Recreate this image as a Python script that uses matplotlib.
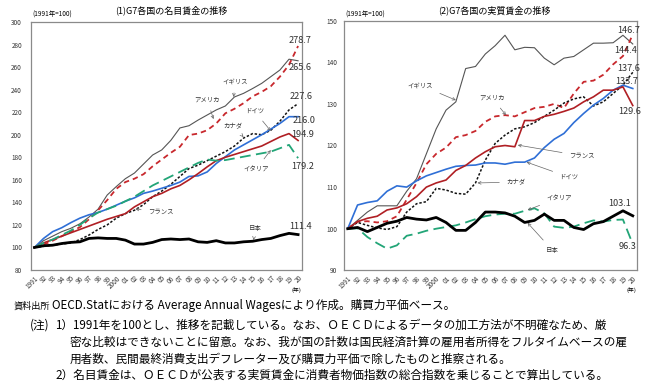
import matplotlib.pyplot as plt

plt.rcParams['font.family'] = ['Noto Sans CJK JP', 'DejaVu Sans']

years = list(range(1991, 2021))
year_labels = ['1991', '92', '93', '94', '95', '96', '97', '98', '99', '2000',
               '01', '02', '03', '04', '05', '06', '07', '08', '09', '10',
               '11', '12', '13', '14', '15', '16', '17', '18', '19', '20']

# (1) 名目賃金 (1991年=100)
nom_uk = [100, 106, 110, 114, 117, 121, 127, 134, 146.5, 154, 161, 166, 174, 182, 186.5,
          195, 206, 208, 213, 217.5, 222, 225.5, 233.5, 236.7, 241, 245.6, 251.5, 257.4, 267, 265.6]
nom_us = [100, 102.5, 106, 110, 114, 118, 125, 133, 142, 152, 158, 161, 165, 172, 178,
          184, 189.3, 199.7, 201, 204, 210, 219, 223, 228, 234, 238, 243, 251.5, 262, 278.7]
nom_ca = [100, 101, 102, 103, 104, 107, 111, 116, 120, 126, 130, 133, 138, 145, 150,
          156, 163, 170, 173, 177, 181, 185, 190, 197, 201, 200, 204, 212, 222, 227.6]
nom_de = [100, 108, 114, 117.5, 122, 126, 129, 131, 134, 137.5, 141, 144, 148, 150, 152.5,
          155, 158, 163, 163.5, 167, 174.5, 180.5, 186.5, 191, 195.5, 200, 205, 210, 216, 216.0]
nom_fr = [100, 104, 107, 110, 113, 116, 119, 122, 125, 127.5, 130, 136, 140.5, 145, 148,
          152, 155, 160, 165.5, 171.5, 177, 180, 182.5, 185, 187.5, 190, 194, 198, 201, 194.9]
nom_it = [100, 104, 107, 111, 115, 120, 126, 131, 134, 137, 141, 145, 150, 155, 159,
          163, 167, 171, 175, 178, 177, 177.5, 179, 180.5, 182, 183.5, 185, 188, 191, 179.2]
nom_jp = [100, 101.5, 102, 103.5, 104.5, 105, 108, 108.5, 108, 108, 106.5, 103, 103, 104.5, 107,
          107.5, 107, 107.5, 105, 104.5, 106, 104, 104, 105, 105.5, 107, 108, 110.5, 112.5, 111.4]

# (2) 実質賃金 (1991年=100)
real_uk = [100, 102, 104, 105.5, 105.5, 105.5, 109, 112, 118, 124, 128.5, 130.5, 138.5, 139, 142,
           144, 146.5, 143, 143.6, 143.5, 141, 139.4, 141, 141.4, 143, 144.6, 144.6, 144.7, 146.5, 144.4]
real_us = [100, 101.7, 101.8, 101.5, 101.8, 103, 107, 111, 115.5, 118, 119.5, 122, 122.5, 123.5, 125.7,
           127, 127.3, 127, 128, 129, 129.3, 130, 129, 132.5, 135.3, 135.6, 137, 139.5, 141.5, 146.7]
real_ca = [100, 101.5, 100.8, 100.2, 99.8, 100.5, 104, 106, 106.5, 109.7, 109.3, 108.5, 108.3, 111, 116.5,
           120.5, 122.5, 124, 124.5, 125.5, 127, 128.5, 130.2, 131.2, 131.7, 129.5, 130.5, 132.5, 134.5, 137.6]
real_de = [100, 105.7, 106.3, 106.7, 109, 110.3, 110, 111.5, 112.7, 113.5, 114.3, 115, 115.2, 115.3, 115.8,
           115.8, 115.5, 116, 116, 117, 119.5, 121.5, 122.9, 125.5, 127.7, 129.7, 131.3, 133.3, 134.5, 133.7]
real_fr = [100, 101.7, 102.5, 103, 104.5, 105, 106, 107.7, 110, 111, 111.7, 114, 115.2, 117, 118.5,
           119.7, 120, 119.7, 126, 126, 127, 127.5, 128.2, 129, 130.5, 131.7, 133.3, 133.3, 134.1, 129.6]
real_it = [100, 100.1, 98, 96.5, 95.2, 96, 98.3, 98.8, 99.5, 100, 100.4, 100.8, 101.5, 102.3, 103,
           103.4, 103.6, 103.6, 104.3, 104.9, 103.7, 100.5, 100.2, 100.5, 101.3, 102, 101.7, 102.1, 102.2, 96.3]
real_jp = [100, 100.3, 99.3, 100.3, 101.3, 101.8, 102.7, 102.3, 102.1, 102.7, 101.5, 99.6, 99.6, 101.5, 104,
           104, 103.8, 103, 101.5, 102, 103.5, 102, 102, 100.3, 99.8, 101.2, 101.7, 103, 104.3, 103.1]

# 線のスタイル
styles = {
    'uk': dict(color='#555555', lw=0.8),
    'us': dict(color='#c8282d', lw=1.3, dashes=(3, 2.2)),
    'ca': dict(color='#111111', lw=1.1, dashes=(1.6, 1.2)),
    'de': dict(color='#2f6fd6', lw=1.2),
    'fr': dict(color='#b01f24', lw=1.2),
    'it': dict(color='#22a577', lw=1.3, dashes=(6, 3)),
    'jp': dict(color='#000000', lw=2.0),
}

nominal = {'uk': nom_uk, 'us': nom_us, 'ca': nom_ca, 'de': nom_de,
           'fr': nom_fr, 'it': nom_it, 'jp': nom_jp}
real = {'uk': real_uk, 'us': real_us, 'ca': real_ca, 'de': real_de,
        'fr': real_fr, 'it': real_it, 'jp': real_jp}

# 国名ラベル: (text, 文字位置, 矢印先)
names_nom = [('イギリス', (2013.1, 246.8), (2012.9, 233.5)),
             ('アメリカ', (2010.0, 230.8), (2010.7, 213.9)),
             ('ドイツ', (2015.2, 221.0), (2017.0, 203.3)),
             ('カナダ', (2012.8, 207.7), (2014.0, 198.0)),
             ('フランス', (2004.9, 131.4), (2002.1, 134.1)),
             ('イタリア', (2015.4, 169.6), (2017.0, 186.4)),
             ('日本', (2015.3, 117.2), (2015.1, 106.6))]
names_real = [('イギリス', (1998.4, 134.5), (2002.0, 130.9)),
              ('アメリカ', (2005.7, 131.4), (2007.1, 127.3)),
              ('フランス', (2014.8, 117.5), (2008.3, 120.1)),
              ('ドイツ', (2013.5, 112.4), (2009.2, 116.0)),
              ('カナダ', (2008.1, 111.2), (2004.2, 111.0)),
              ('イタリア', (2012.5, 107.4), (2009.3, 104.5)),
              ('日本', (2011.8, 94.9), (2009.3, 101.4))]

# 最終値ラベルのずらし (points)
off_nom = {'us': (1.7, 4.3), 'uk': (1.7, -5), 'ca': (2.4, 4.8), 'de': (4.5, -3),
           'fr': (3, 4.6), 'it': (3, -5.7), 'jp': (1.7, 5.5)}
off_real = {'us': (-3, 2.5), 'uk': (-5, -5), 'ca': (-3, 3), 'de': (-4.5, 4.7),
            'fr': (-2.4, -4.6), 'jp': (-9.5, 9.2), 'it': (-4, -2)}


def draw(ax, data, ylim, yticks, ypad, names, offs):
    for key in ['uk', 'us', 'ca', 'de', 'fr', 'it', 'jp']:
        st = dict(styles[key])
        dashes = st.pop('dashes', None)
        line, = ax.plot(years, data[key], **st)
        if dashes:
            line.set_dashes(dashes)
        last = data[key][-1]
        ax.annotate(f'{last:.1f}', xy=(years[-1], last), xytext=offs[key],
                    textcoords='offset points', ha='center', va='center',
                    fontsize=6.6, color='#333333')
    for txt, pos, tip in names:
        ax.annotate(txt, xy=tip, xytext=pos, ha='center', va='center',
                    fontsize=4.6, color='#333333',
                    arrowprops=dict(arrowstyle='->', color='#666666', lw=0.5,
                                    shrinkA=3, shrinkB=0, mutation_scale=5))
    ax.set_xlim(years[0] - 0.38, years[-1] + 0.43)
    ax.set_ylim(*ylim)
    ax.set_xticks(years)
    ax.set_xticklabels(year_labels, rotation=45, ha='right', rotation_mode='anchor',
                       fontsize=4.6, color='#333333')
    ax.set_yticks(yticks)
    ax.set_yticklabels([str(v) for v in yticks], fontsize=4.6, color='#333333')
    ax.tick_params(length=0)
    ax.tick_params(axis='y', pad=ypad)
    ax.tick_params(axis='x', pad=3)
    for s in ax.spines.values():
        s.set_color('#8a8a8a')
        s.set_linewidth(0.9)


fig = plt.figure(figsize=(6.5, 3.81), dpi=100)
ax1 = fig.add_axes([31 / 650, 1 - 270 / 381, 271 / 650, 248 / 381])
ax2 = fig.add_axes([344 / 650, 1 - 270.3 / 381, 293 / 650, 249.6 / 381])

draw(ax1, nominal, (80, 300), list(range(80, 301, 20)), 6.5, names_nom, off_nom)
draw(ax2, real, (90, 150), list(range(90, 151, 10)), 5, names_real, off_real)

fig.text(171 / 650, 1 - 10.5 / 381, '(1)G7各国の名目賃金の推移', ha='center', va='center', fontsize=6.5)
fig.text(494 / 650, 1 - 10.5 / 381, '(2)G7各国の実質賃金の推移', ha='center', va='center', fontsize=6.5)
fig.text(32 / 650, 1 - 15 / 381, '(1991年=100)', ha='left', va='center', fontsize=4.6)
fig.text(345 / 650, 1 - 15 / 381, '(1991年=100)', ha='left', va='center', fontsize=4.6)
fig.text(296 / 650, 1 - 290 / 381, '(年)', ha='center', va='center', fontsize=4.2)
fig.text(631 / 650, 1 - 290 / 381, '(年)', ha='center', va='center', fontsize=4.2)

# 資料出所・注
fs = 8.4
fig.text(14 / 650, 1 - 306 / 381, '資料出所', ha='left', va='center', fontsize=6.6)
fig.text(52 / 650, 1 - 306 / 381, 'OECD.Statにおける Average Annual Wagesにより作成。購買力平価ベース。',
         ha='left', va='center', fontsize=fs)
fig.text(30 / 650, 1 - 325 / 381, '(注)', ha='left', va='center', fontsize=fs)
fig.text(55 / 650, 1 - 325 / 381,
         '1）1991年を100とし、推移を記載している。なお、ＯＥＣＤによるデータの加工方法が不明確なため、厳',
         ha='left', va='center', fontsize=fs)
fig.text(70 / 650, 1 - 342 / 381,
         '密な比較はできないことに留意。なお、我が国の計数は国民経済計算の雇用者所得をフルタイムベースの雇',
         ha='left', va='center', fontsize=fs)
fig.text(70 / 650, 1 - 359 / 381,
         '用者数、民間最終消費支出デフレーター及び購買力平価で除したものと推察される。',
         ha='left', va='center', fontsize=fs)
fig.text(55 / 650, 1 - 375 / 381,
         '2）名目賃金は、ＯＥＣＤが公表する実質賃金に消費者物価指数の総合指数を乗じることで算出している。',
         ha='left', va='center', fontsize=fs)

fig.savefig('out.png', dpi=100)
